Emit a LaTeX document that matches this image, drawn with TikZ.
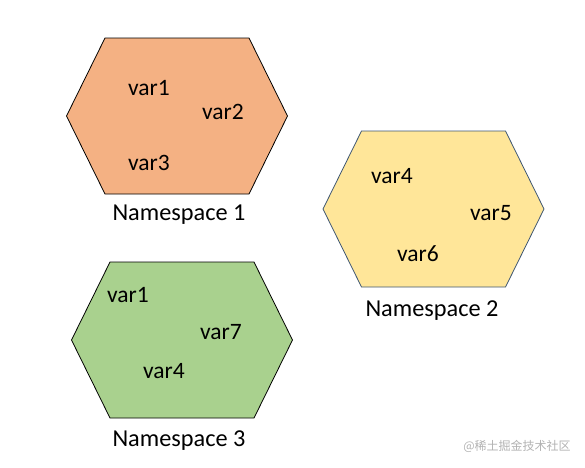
\documentclass[tikz,border=0pt]{standalone}
\usepackage{fontspec}
\setmainfont{Carlito}
\newfontfamily\cjkfont{Noto Sans CJK SC}
\usetikzlibrary{positioning}

\definecolor{nsorange}{HTML}{F4B183}
\definecolor{nsyellow}{HTML}{FFE699}
\definecolor{nsgreen}{HTML}{A9D18E}
\definecolor{nsslate}{HTML}{3E5672}

\begin{document}
\begin{tikzpicture}[x=1pt, y=-1pt,
  hexline/.style={line width=0.8pt, line join=miter},
  varlabel/.style={anchor=base, inner sep=0pt, font=\fontsize{23.5}{28}\selectfont},
  nslabel/.style={anchor=base, inner sep=0pt, font=\fontsize{24.3}{29}\selectfont}]
  \useasboundingbox (0,0) rectangle (585,467);

  % Hexagons (centre x / centre y / fill / outline)
  \foreach \cx/\cy/\col/\edge in {177/116/nsorange/black, 433.5/209/nsyellow/nsslate, 182/340/nsgreen/black}
    \filldraw[hexline, draw=\edge, fill=\col]
      (\cx-110.5,\cy) -- (\cx-72,\cy-78) -- (\cx+72,\cy-78) -- (\cx+110.5,\cy)
      -- (\cx+72,\cy+78) -- (\cx-72,\cy+78) -- cycle;

  % Namespace 1
  \node[varlabel] (a1) at (149,95) {var1};
  \node[varlabel] (a2) at (223,119) {var2};
  \node[varlabel] (a3) at (149,170) {var3};
  \node[nslabel] (ns1) at (179,220) {Namespace 1};

  % Namespace 2
  \node[varlabel] (b4) at (392,183) {var4};
  \node[varlabel] (b5) at (491,220) {var5};
  \node[varlabel] (b6) at (418,261) {var6};
  \node[nslabel] (ns2) at (432,316) {Namespace 2};

  % Namespace 3
  \node[varlabel] (c1) at (128,302) {var1};
  \node[varlabel] (c7) at (221,339) {var7};
  \node[varlabel] (c4) at (164,378) {var4};
  \node[nslabel] (ns3) at (179,446) {Namespace 3};

  % Watermark
  \node[anchor=base, inner sep=0pt, text=black!30, font=\cjkfont\fontsize{12}{14}\selectfont] (mark) at (517,450) {@稀土掘金技术社区};
\end{tikzpicture}
\end{document}
